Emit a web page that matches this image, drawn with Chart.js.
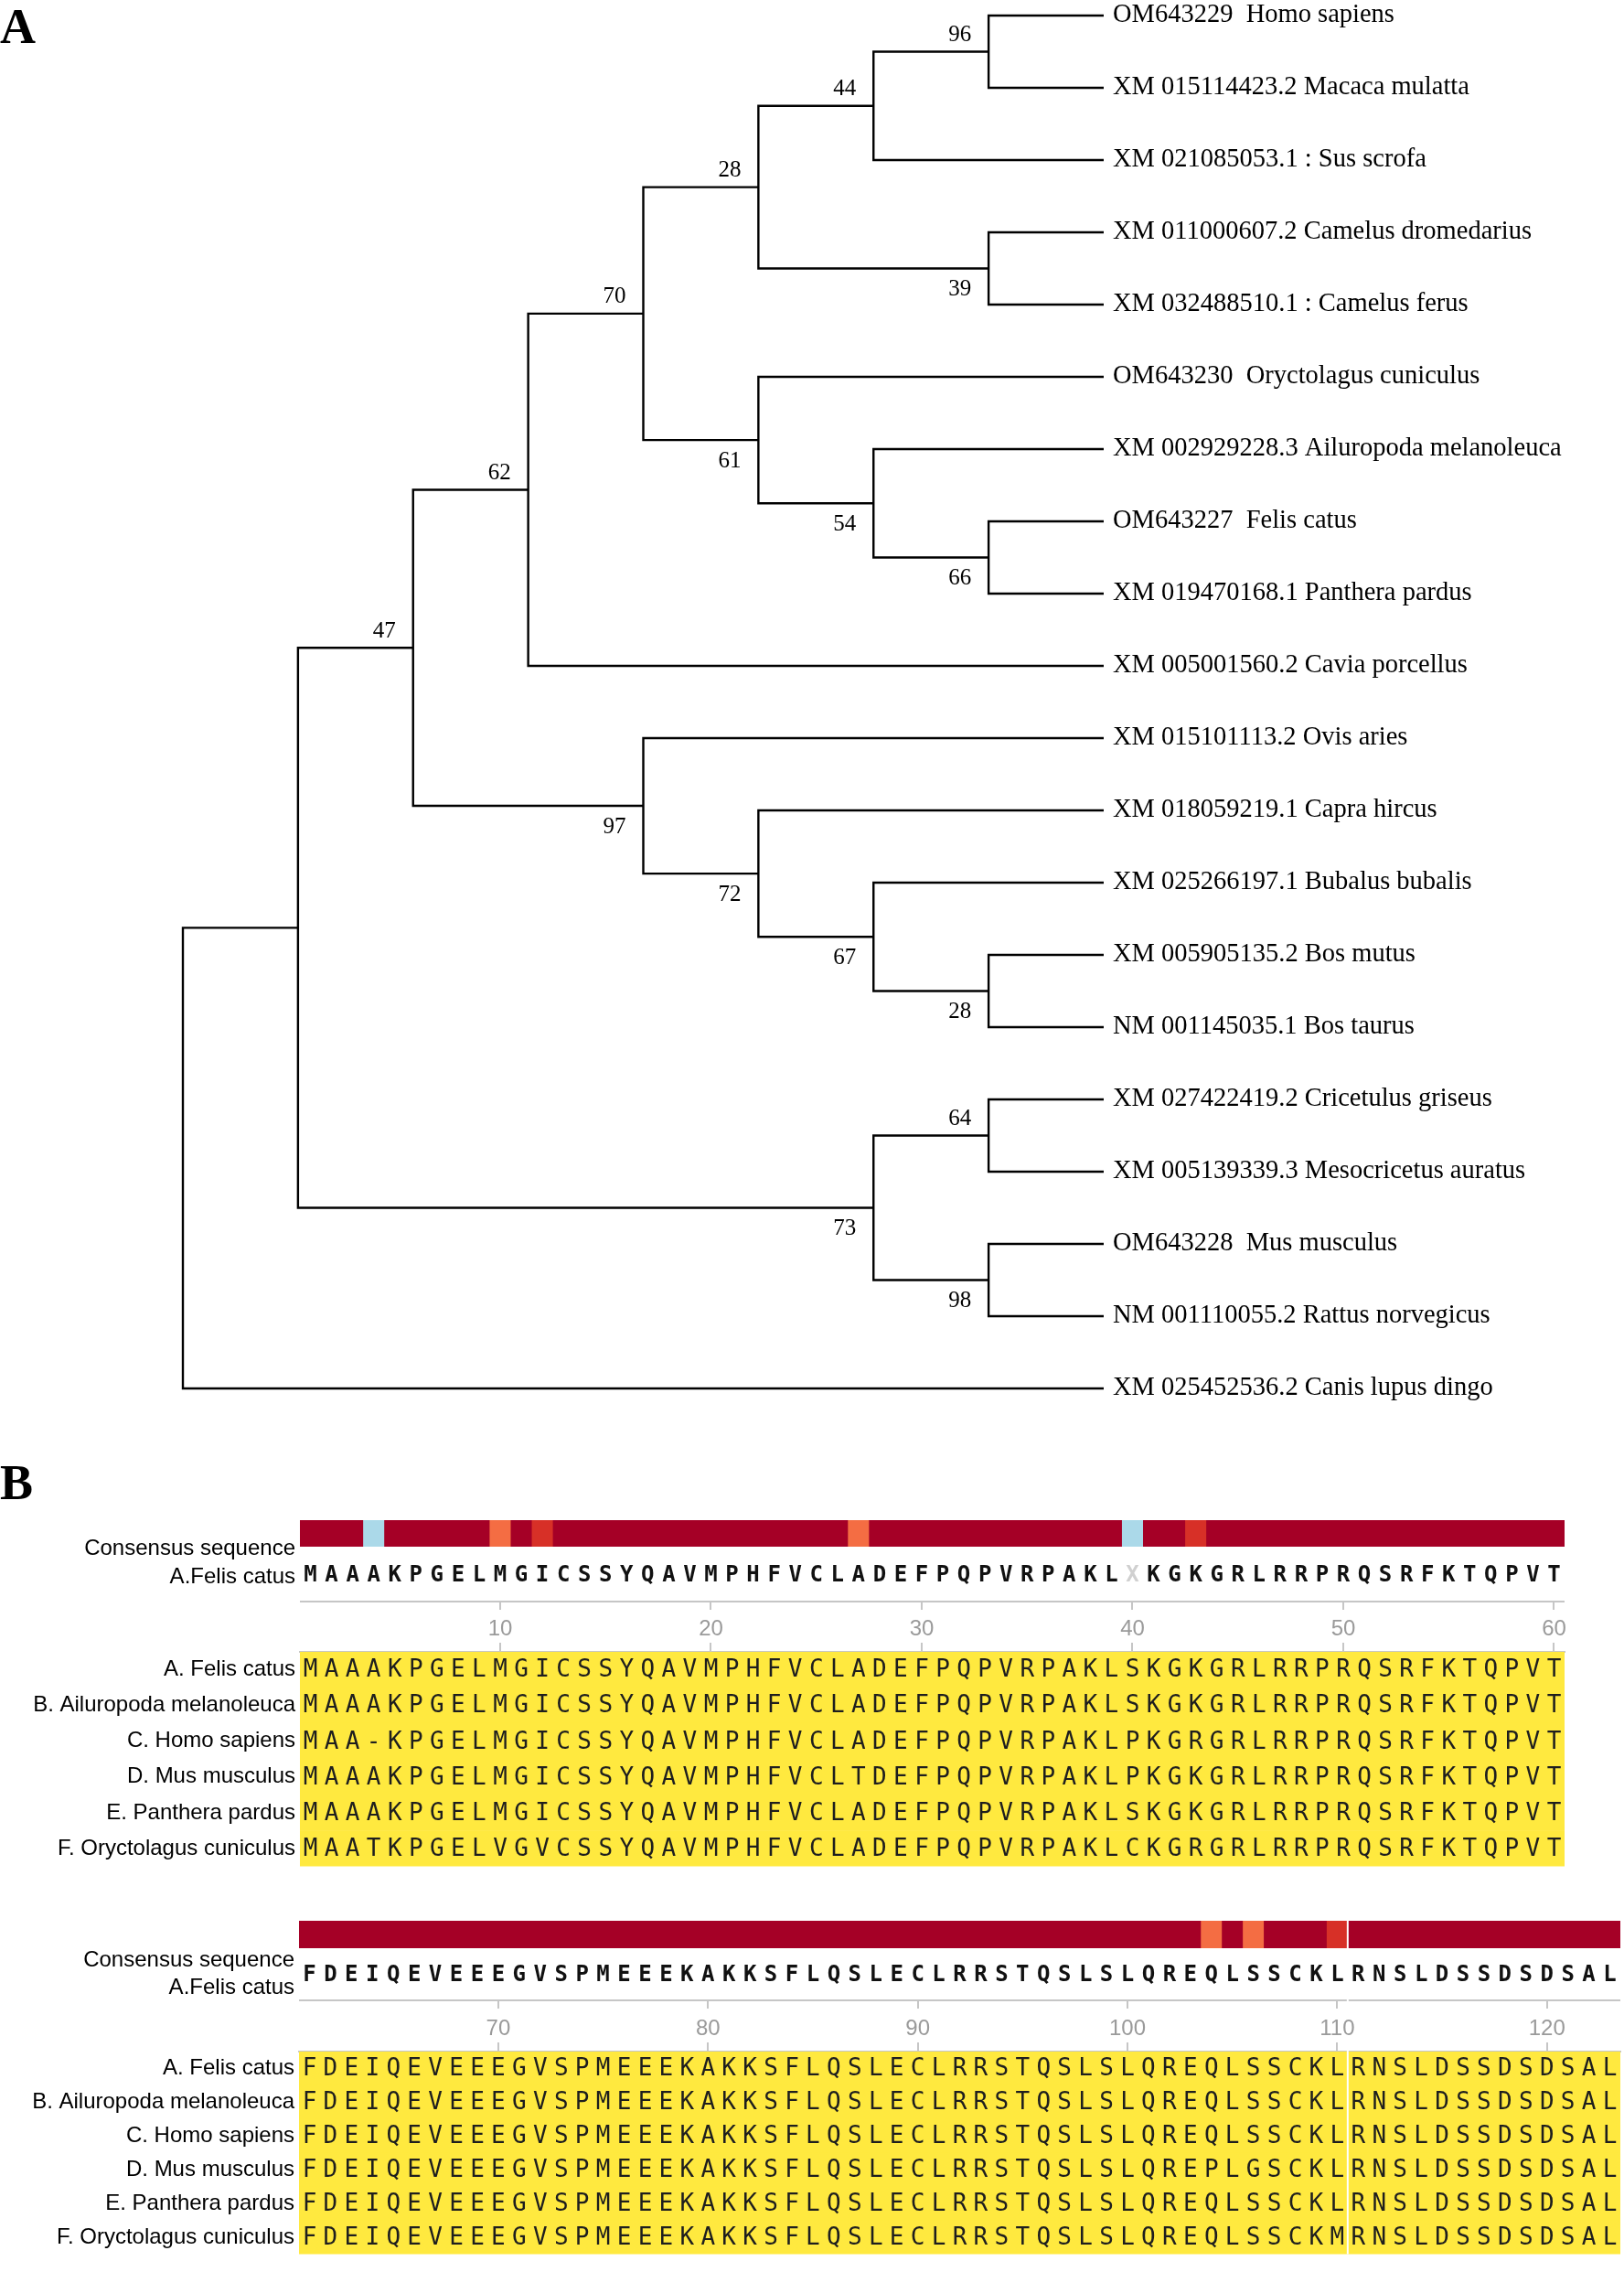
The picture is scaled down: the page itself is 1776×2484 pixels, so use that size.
<!DOCTYPE html>
<html>
<head>
<meta charset="utf-8">
<script src="https://cdn.jsdelivr.net/npm/chart.js@4.4.1/dist/chart.umd.min.js"></script>
<style>
  html, body { margin: 0; padding: 0; background: #fff; }
  body { width: 1776px; height: 2484px; position: relative; overflow: hidden; }
  .panel { position: absolute; left: 0; font-family: "Liberation Serif", serif; font-weight: bold; font-size: 54px; line-height: 1; }
  canvas { position: absolute; left: 0; }
</style>
</head>
<body>
<div class="panel" style="top:2px">A</div>
<div class="panel" style="top:1594px">B</div>
<canvas id="tree" width="1776" height="1600" style="top:-20px"></canvas>
<canvas id="aln1" width="1776" height="480" style="top:1580px"></canvas>
<canvas id="aln2" width="1776" height="424" style="top:2060px"></canvas>
<script>
// ---- panel A: tree ----
const leafNames = [
  'OM643229  Homo sapiens',
  'XM 015114423.2 Macaca mulatta',
  'XM 021085053.1 : Sus scrofa',
  'XM 011000607.2 Camelus dromedarius',
  'XM 032488510.1 : Camelus ferus',
  'OM643230  Oryctolagus cuniculus',
  'XM 002929228.3 Ailuropoda melanoleuca',
  'OM643227  Felis catus',
  'XM 019470168.1 Panthera pardus',
  'XM 005001560.2 Cavia porcellus',
  'XM 015101113.2 Ovis aries',
  'XM 018059219.1 Capra hircus',
  'XM 025266197.1 Bubalus bubalis',
  'XM 005905135.2 Bos mutus',
  'NM 001145035.1 Bos taurus',
  'XM 027422419.2 Cricetulus griseus',
  'XM 005139339.3 Mesocricetus auratus',
  'OM643228  Mus musculus',
  'NM 001110055.2 Rattus norvegicus',
  'XM 025452536.2 Canis lupus dingo'
];
// topology with bootstrap values, leaves given by index in leafNames
const treeNewick = '((((((((0,1)96,2)44,(3,4)39)28,(5,(6,(7,8)66)54)61)70,9)62,(10,(11,(12,(13,14)28)67)72)97)47,((15,16)64,(17,18)98)73),19);';
const tipDepth = 8;

// ---- panel B: alignment ----
const alnNames = ['A. Felis catus', 'B. Ailuropoda melanoleuca', 'C. Homo sapiens',
  'D. Mus musculus', 'E. Panthera pardus', 'F. Oryctolagus cuniculus'];
const alnSeqs = [
  'MAAAKPGELMGICSSYQAVMPHFVCLADEFPQPVRPAKLSKGKGRLRRPRQSRFKTQPVT' + 'FDEIQEVEEEGVSPMEEEKAKKSFLQSLECLRRSTQSLSLQREQLSSCKLRNSLDSSDSDSAL',
  'MAAAKPGELMGICSSYQAVMPHFVCLADEFPQPVRPAKLSKGKGRLRRPRQSRFKTQPVT' + 'FDEIQEVEEEGVSPMEEEKAKKSFLQSLECLRRSTQSLSLQREQLSSCKLRNSLDSSDSDSAL',
  'MAA-KPGELMGICSSYQAVMPHFVCLADEFPQPVRPAKLPKGRGRLRRPRQSRFKTQPVT' + 'FDEIQEVEEEGVSPMEEEKAKKSFLQSLECLRRSTQSLSLQREQLSSCKLRNSLDSSDSDSAL',
  'MAAAKPGELMGICSSYQAVMPHFVCLTDEFPQPVRPAKLPKGKGRLRRPRQSRFKTQPVT' + 'FDEIQEVEEEGVSPMEEEKAKKSFLQSLECLRRSTQSLSLQREPLGSCKLRNSLDSSDSDSAL',
  'MAAAKPGELMGICSSYQAVMPHFVCLADEFPQPVRPAKLSKGKGRLRRPRQSRFKTQPVT' + 'FDEIQEVEEEGVSPMEEEKAKKSFLQSLECLRRSTQSLSLQREQLSSCKLRNSLDSSDSDSAL',
  'MAATKPGELVGVCSSYQAVMPHFVCLADEFPQPVRPAKLCKGRGRLRRPRQSRFKTQPVT' + 'FDEIQEVEEEGVSPMEEEKAKKSFLQSLECLRRSTQSLSLQREQLSSCKMRNSLDSSDSDSAL'
];
const consensusSeq = 'MAAAKPGELMGICSSYQAVMPHFVCLADEFPQPVRPAKLXKGKGRLRRPRQSRFKTQPVT' + 'FDEIQEVEEEGVSPMEEEKAKKSFLQSLECLRRSTQSLSLQREQLSSCKLRNSLDSSDSDSAL';
const varPositions = [4, 10, 12, 27, 40, 43, 104, 106, 110];
const varLevels = ['low', 'mid', 'high', 'mid', 'low', 'high', 'mid', 'mid', 'high'];
const rulerTicks = [10, 20, 30, 40, 50, 60, 70, 80, 90, 100, 110, 120];
const blockRanges = [[1, 60], [61, 123]];

const levelColors = { high: '#D73027', mid: '#F46D43', low: '#ABD9E9' };
const identColor = '#A50026';
const yellow = '#FFE93F';

// parse the newick string into nodes
function parseNewick(str) {
  let i = 0;
  function token() {
    let t = '';
    while (i < str.length && !'(),;'.includes(str[i])) t += str[i++];
    return t;
  }
  function node() {
    if (str[i] === '(') {
      i++;
      const kids = [node()];
      while (str[i] === ',') { i++; kids.push(node()); }
      i++;
      const lab = token();
      return { kids, support: lab === '' ? null : +lab };
    }
    return { leaf: +token() };
  }
  return node();
}

// cladogram: tips aligned, each node placed one step left of its highest child
const root = parseNewick(treeNewick);
const inner = [];
(function place(n) {
  if (n.kids) {
    n.kids.forEach(place);
    n.height = Math.max(...n.kids.map(k => k.height)) + 1;
    n.x = tipDepth - n.height;
    n.y = (n.kids[0].y + n.kids[n.kids.length - 1].y) / 2;
    n.kids.forEach((k, j) => { k.upper = j === 0; });
    inner.push(n);
  } else {
    n.height = 0;
    n.x = tipDepth;
    n.y = n.leaf;
  }
})(root);

const treeSets = inner.map(n => {
  const a = n.kids[0], b = n.kids[n.kids.length - 1];
  return {
    data: [{ x: a.x, y: a.y }, { x: n.x, y: a.y }, { x: n.x, y: b.y }, { x: b.x, y: b.y }],
    showLine: true, borderColor: '#000', borderWidth: 2.4, pointRadius: 0,
    tension: 0, clip: false, borderJoinStyle: 'miter'
  };
});

const supportLabels = {
  id: 'supportLabels',
  afterDatasetsDraw(chart) {
    const { ctx, scales: { x, y } } = chart;
    ctx.save();
    ctx.font = '25px "Liberation Serif", serif';
    ctx.fillStyle = '#000';
    ctx.textAlign = 'right';
    ctx.textBaseline = 'middle';
    inner.forEach(n => {
      if (n.support == null) return;
      const px = x.getPixelForValue(n.x) - 19;
      const py = y.getPixelForValue(n.y) + (n.upper ? -18 : 23);
      ctx.fillText(String(n.support), px, py);
    });
    ctx.restore();
  }
};

new Chart(document.getElementById('tree'), {
  type: 'scatter',
  data: { datasets: treeSets },
  options: {
    responsive: false,
    animation: false,
    layout: { padding: { left: 200, top: 37, bottom: 62, right: 0 } },
    plugins: { legend: { display: false }, tooltip: { enabled: false } },
    scales: {
      x: { type: 'linear', min: 0, max: tipDepth, display: false },
      y: {
        type: 'linear', position: 'right', reverse: true, min: 0, max: leafNames.length - 1,
        afterBuildTicks: s => { s.ticks = leafNames.map((_, i) => ({ value: i })); },
        afterFit: s => { s.width = 569; s.paddingTop = 0; s.paddingBottom = 0; },
        grid: { display: false, drawTicks: false },
        border: { display: false },
        ticks: {
          autoSkip: false, padding: 10, color: '#000',
          font: { family: '"Liberation Serif", serif', size: 28.5 },
          callback: v => leafNames[v]
        }
      }
    }
  },
  plugins: [supportLabels]
});

// ---- alignment blocks ----
const consensusPlugin = {
  id: 'consensus',
  afterDraw(chart, args, o) {
    const { ctx, chartArea, scales: { x } } = chart;
    const cell = p => [x.getPixelForValue(p - 0.5), x.getPixelForValue(p + 0.5)];
    ctx.save();
    // conservation bar
    const [l0] = cell(o.first), [, r0] = cell(o.last);
    ctx.fillStyle = identColor;
    ctx.fillRect(l0, o.barTop, r0 - l0, o.barH);
    varPositions.forEach((p, k) => {
      if (p < o.first || p > o.last) return;
      const [a, b] = cell(p);
      ctx.fillStyle = levelColors[varLevels[k]];
      ctx.fillRect(a, o.barTop, b - a, o.barH);
    });
    // consensus letters
    ctx.font = 'bold 24px "DejaVu Sans Mono", monospace';
    ctx.textAlign = 'center';
    ctx.textBaseline = 'middle';
    for (let p = o.first; p <= o.last; p++) {
      const ch = consensusSeq[p - 1];
      ctx.fillStyle = ch === 'X' ? '#d0d0d0' : '#111';
      ctx.fillText(ch, x.getPixelForValue(p), o.letterY);
    }
    // labels
    ctx.font = '24px "Liberation Sans", Arial, sans-serif';
    ctx.fillStyle = '#000';
    ctx.textAlign = 'right';
    ctx.textBaseline = 'alphabetic';
    ctx.fillText('Consensus sequence', chartArea.left - 5, o.label1Y);
    ctx.fillText('A.Felis catus', chartArea.left - 5, o.label2Y);
    // upper ruler line
    ctx.strokeStyle = '#c6c6c6';
    ctx.lineWidth = 2;
    ctx.beginPath();
    ctx.moveTo(chartArea.left, o.rulerY);
    ctx.lineTo(chartArea.right, o.rulerY);
    rulerTicks.forEach(t => {
      if (t < o.first || t > o.last) return;
      const px = Math.round(x.getPixelForValue(t));
      ctx.moveTo(px, o.rulerY);
      ctx.lineTo(px, o.rulerY + 9);
    });
    ctx.stroke();
    // section break
    if (o.breakAfter) {
      const bx = x.getPixelForValue(o.breakAfter + 0.5);
      ctx.strokeStyle = '#fff';
      ctx.lineWidth = 2;
      ctx.beginPath();
      ctx.moveTo(bx, o.barTop - 1); ctx.lineTo(bx, o.barTop + o.barH + 1);
      ctx.moveTo(bx, o.rulerY - 2); ctx.lineTo(bx, o.rulerY + 2);
      ctx.moveTo(bx, chartArea.top - 2); ctx.lineTo(bx, chartArea.bottom);
      ctx.stroke();
    }
    ctx.restore();
  }
};

const residueLetters = {
  id: 'residueLetters',
  afterDatasetsDraw(chart, args, o) {
    const { ctx, scales: { x, y } } = chart;
    ctx.save();
    ctx.font = '26px "DejaVu Sans Mono", monospace';
    ctx.fillStyle = '#1e1e1e';
    ctx.textAlign = 'center';
    ctx.textBaseline = 'middle';
    alnSeqs.forEach((s, r) => {
      const py = y.getPixelForValue(r);
      for (let p = o.first; p <= o.last; p++) {
        ctx.fillText(s[p - 1], x.getPixelForValue(p), py + 1);
      }
    });
    ctx.restore();
  }
};

function alignmentChart(id, first, last, g) {
  const rowBars = alnNames.map(() => [first - 0.5, last + 0.5]);
  const diffCells = [];
  alnSeqs.forEach((s, r) => {
    for (let p = first; p <= last; p++) {
      if (s[p - 1] !== alnSeqs[0][p - 1]) diffCells.push({ x: [p - 0.5, p + 0.5], y: alnNames[r] });
    }
  });
  const common = { grouped: false, barPercentage: 1, categoryPercentage: 1, borderWidth: 0 };
  new Chart(document.getElementById(id), {
    type: 'bar',
    data: {
      labels: alnNames,
      datasets: [
        Object.assign({ data: rowBars, backgroundColor: yellow }, common),
        Object.assign({ data: diffCells, backgroundColor: '#ffffff' }, common)
      ]
    },
    options: {
      indexAxis: 'y',
      responsive: false,
      animation: false,
      layout: { padding: { left: 0, top: g.chartTop - 50, bottom: g.canvasH - g.chartBottom, right: 1776 - g.chartRight } },
      plugins: {
        legend: { display: false }, tooltip: { enabled: false },
        consensus: Object.assign({ first, last }, g),
        residueLetters: { first, last }
      },
      scales: {
        x: {
          type: 'linear', position: 'top', min: first - 0.5, max: last + 0.5,
          afterBuildTicks: s => { s.ticks = rulerTicks.filter(t => t >= first && t <= last).map(v => ({ value: v })); },
          afterFit: s => { s.height = 50; },
          grid: { drawOnChartArea: false, drawTicks: true, tickLength: 10, color: '#c6c6c6', lineWidth: 2 },
          border: { display: true, color: '#c6c6c6', width: 2 },
          ticks: {
            autoSkip: false, padding: 0, color: '#9a9a9a', maxRotation: 0,
            font: { family: '"Liberation Sans Narrow", "Liberation Sans", sans-serif', size: 24 },
            callback: v => String(v)
          }
        },
        y: {
          position: 'left', z: 1,
          afterFit: s => { s.width = g.chartLeft; },
          grid: { offset: true, drawTicks: false, color: 'rgba(255,255,255,0.35)', lineWidth: 1 },
          border: { display: false },
          ticks: {
            padding: 5, color: '#000',
            font: { family: '"Liberation Sans", Arial, sans-serif', size: 24 }
          }
        }
      }
    },
    plugins: [consensusPlugin, residueLetters]
  });
}

alignmentChart('aln1', blockRanges[0][0], blockRanges[0][1], {
  canvasH: 480, chartLeft: 328, chartRight: 1711, chartTop: 226, chartBottom: 462,
  barTop: 82, barH: 29, letterY: 143, label1Y: 120, label2Y: 151, rulerY: 171
});
alignmentChart('aln2', blockRanges[1][0], blockRanges[1][1], {
  canvasH: 424, chartLeft: 327, chartRight: 1772, chartTop: 183, chartBottom: 418,
  barTop: 40, barH: 30, letterY: 100, label1Y: 90, label2Y: 120, rulerY: 127, breakAfter: 110
});
</script>
</body>
</html>
